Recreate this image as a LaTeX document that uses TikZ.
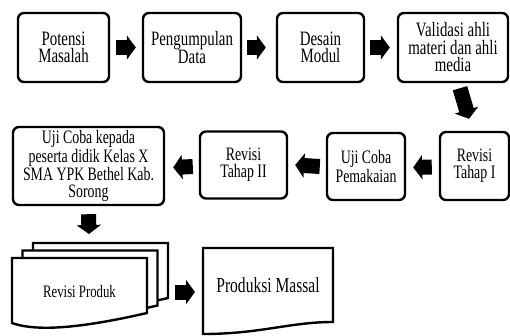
\documentclass[tikz,border=0pt]{standalone}
\usepackage{fontspec}
\setmainfont{Liberation Serif}[FakeStretch=0.73]
\usetikzlibrary{arrows.meta}
\begin{document}
\begin{tikzpicture}[x=1pt,y=-1pt,
  box/.style={draw, line width=2.4pt, rounded corners=6pt, align=center, inner sep=0pt, fill=white},
  rowone/.style={font=\fontsize{20.4}{17.5}\selectfont},
  rowtwo/.style={font=\fontsize{19}{17}\selectfont},
  fat/.style={line width=15pt, -{Triangle[length=9pt,width=24pt]}},
  docline/.style={draw, line width=2.4pt, fill=white, line join=miter},
]
\fill[white] (0,0) rectangle (510,335);
\useasboundingbox (0,0) rectangle (510,335);

% row 1
\node[box, rowone, minimum width=91pt, minimum height=69pt] (b1) at (63.5,47.5) {Potensi\\Masalah};
\node[box, rowone, minimum width=98pt, minimum height=69pt] (b2) at (192,47.5) {Pengumpulan\\Data};
\node[box, rowone, minimum width=87pt, minimum height=69pt] (b3) at (320.5,47.5) {Desain\\Modul};
\node[box, rowone, minimum width=110pt, minimum height=69pt] (b4) at (453,47.5) {Validasi ahli\\materi dan ahli\\media};

% row 2
\node[box, rowtwo, minimum width=69pt, minimum height=68pt] (b5) at (474.5,166) {Revisi\\Tahap I};
\node[box, rowtwo, minimum width=78pt, minimum height=67pt] (b6) at (366,166.5) {Uji Coba\\Pemakaian};
\node[box, rowtwo, minimum width=87pt, minimum height=67pt] (b7) at (243.5,165) {Revisi\\Tahap II};
\node[box, rowtwo, minimum width=151pt, minimum height=78pt] (b8) at (88.5,166) {Uji Coba kepada\\peserta didik Kelas X\\SMA YPK Bethel Kab.\\Sorong};

% row 3 documents
\path[docline] (33,243) -- (168,243) -- (168,298) .. controls (111,311) and (61,318) .. (33,308) -- cycle;
\path[docline] (22.5,250.5) -- (157.5,250.5) -- (157.5,305.5) .. controls (100.5,318.5) and (50.5,325.5) .. (22.5,315.5) -- cycle;
\path[docline] (12,258) -- (147,258) -- (147,313) .. controls (90,326) and (40,333) .. (12,323) -- cycle;
\node[font=\fontsize{17.5}{17}\selectfont] (d1) at (79.5,292) {Revisi Produk};
\coordinate (d1top) at (89,234);
\coordinate (d1r) at (168,292);

\path[docline] (203,248) -- (333,248) -- (333,322) .. controls (290,322) and (260,334) .. (203,334) -- cycle;
\node[font=\fontsize{21.3}{18}\selectfont] (d2) at (268,285.5) {Produksi Massal};
\coordinate (d2l) at (203,292);

% arrows
\draw[fat] ([xshift=6pt]b1.east) -- ([xshift=-6pt]b2.west);
\draw[fat] ([xshift=5pt]b2.east) -- ([xshift=-10pt]b3.west);
\draw[fat] ([xshift=5pt]b3.east) -- ([xshift=-7pt]b4.west);
\draw[fat] ([xshift=7pt,yshift=-5pt]b4.south) -- ([xshift=-5.5pt,yshift=12pt]b5.north);
\draw[fat] ([xshift=-7pt,yshift=-1pt]b5.west) -- ([xshift=7pt,yshift=-1pt]b6.east);
\draw[fat] ([xshift=-6pt]b6.west) -- ([xshift=7pt]b7.east);
\draw[fat] ([xshift=-6pt,yshift=-1.5pt]b7.west) -- ([xshift=8pt,yshift=-1.5pt]b8.east);
\draw[fat] ([yshift=-8pt]b8.south) -- (d1top);
\draw[fat] ([xshift=7pt]d1r) -- ([xshift=-8pt]d2l);
\end{tikzpicture}
\end{document}
